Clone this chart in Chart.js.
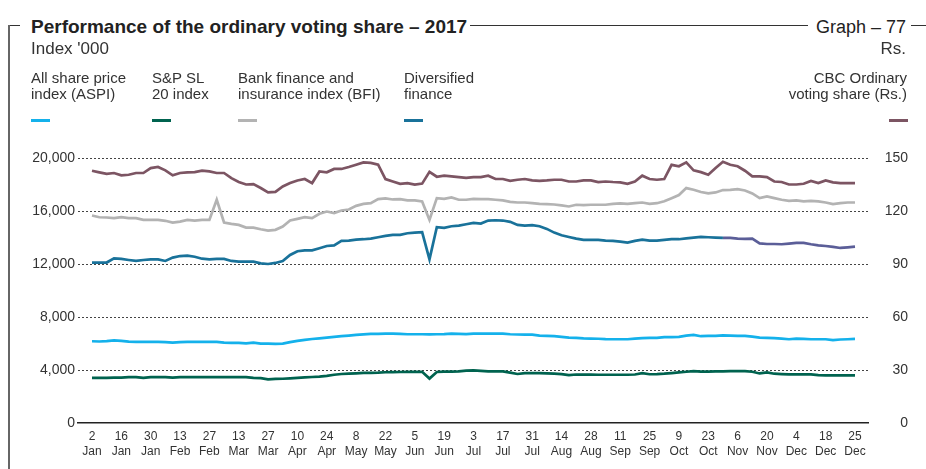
<!DOCTYPE html>
<html>
<head>
<meta charset="utf-8">
<script src="https://cdn.jsdelivr.net/npm/chart.js@4.4.1/dist/chart.umd.min.js"></script>
<style>
  html, body { margin: 0; padding: 0; background: #fff; }
  body { width: 926px; height: 469px; position: relative; overflow: hidden;
         font-family: "Liberation Sans", Arial, sans-serif; color: #333; }
  #chart { position: absolute; left: 0; top: 0; }
  .frame-v { position: absolute; left: 8px; top: 25px; width: 1.5px; height: 444px; background: #666; }
  .frame-h { position: absolute; left: 8px; right: 0; top: 25px; height: 1px; background: #333; }
  .title { position: absolute; left: 20px; top: 16px; padding: 0 3px 0 11px; background: #fff;
           font-weight: bold; font-size: 19px; line-height: 21px; color: #222; white-space: nowrap; }
  .graph { position: absolute; right: 15px; top: 17px; padding: 0 5px 0 8px; background: #fff;
           font-size: 18px; line-height: 20px; color: #222; white-space: nowrap; }
  .unit { position: absolute; top: 39px; font-size: 17px; line-height: 20px; white-space: nowrap; }
  .lg { position: absolute; top: 70px; font-size: 15px; line-height: 16px; white-space: nowrap; }
  .sw { position: absolute; top: 119px; width: 19px; height: 3px; }
</style>
</head>
<body>
<canvas id="chart" width="926" height="469"></canvas>
<div class="frame-h"></div>
<div class="frame-v"></div>
<div class="title">Performance of the ordinary voting share – 2017</div>
<div class="graph">Graph – 77</div>
<div class="unit" style="left:31px">Index '000</div>
<div class="unit" style="right:20px">Rs.</div>

<div class="lg" style="left:31px">All share price<br>index (ASPI)</div>
<div class="lg" style="left:152px">S&amp;P SL<br>20 index</div>
<div class="lg" style="left:238px">Bank finance and<br>insurance index (BFI)</div>
<div class="lg" style="left:404px">Diversified<br>finance</div>
<div class="lg" style="right:19px; text-align:right">CBC Ordinary<br>voting share (Rs.)</div>

<div class="sw" style="left:31px; background:#14b1eb"></div>
<div class="sw" style="left:152px; background:#00634f"></div>
<div class="sw" style="left:238px; background:#b3b3b3"></div>
<div class="sw" style="left:404px; background:#19729a"></div>
<div class="sw" style="left:889px; background:#7c5563"></div>

<script>
// tick labels (every two weeks)
const tickDays = ['2', '16', '30', '13', '27', '13', '27', '10', '24', '8', '22', '5', '19',
    '3', '17', '31', '14', '28', '11', '25', '9', '23', '6', '20', '4', '18', '25'];
const tickMonths = ['Jan', 'Jan', 'Jan', 'Feb', 'Feb', 'Mar', 'Mar', 'Apr', 'Apr', 'May', 'May', 'Jun', 'Jun',
    'Jul', 'Jul', 'Jul', 'Aug', 'Aug', 'Sep', 'Sep', 'Oct', 'Oct', 'Nov', 'Nov', 'Dec', 'Dec', 'Dec'];

// readings per tick interval
const STEP = 4;

// All share price index
const aspi = [
    6170, 6150, 6180, 6240, 6200, 6140, 6120, 6120, 6120, 6120, 6110, 6060, 6100,
    6120, 6120, 6120, 6120, 6120, 6060, 6050, 6040, 6010, 6060, 5990, 5990, 5970,
    5990, 6100, 6200, 6280, 6340, 6390, 6450, 6500, 6550, 6600, 6650, 6690, 6720,
    6720, 6740, 6740, 6720, 6700, 6700, 6700, 6690, 6700, 6710, 6740, 6730, 6710, 6740,
    6750, 6750, 6750, 6750, 6700, 6680, 6670, 6670, 6600, 6580, 6550, 6500, 6450,
    6420, 6380, 6370, 6360, 6330, 6320, 6320, 6320, 6370, 6400, 6420, 6420, 6480, 6480,
    6500, 6600, 6650, 6550, 6570, 6570, 6620, 6600, 6570, 6570, 6520, 6450, 6420,
    6400, 6370, 6320, 6370, 6350, 6320, 6320, 6320, 6250, 6300, 6320, 6350
];

// S&P SL 20 index
const spsl20 = [
    3400, 3400, 3410, 3420, 3430, 3460, 3460, 3400, 3460, 3460, 3460, 3420, 3460,
    3460, 3460, 3460, 3460, 3460, 3460, 3460, 3460, 3460, 3400, 3390, 3300, 3330,
    3340, 3370, 3400, 3440, 3470, 3500, 3560, 3640, 3700, 3720, 3750, 3780, 3790,
    3800, 3830, 3840, 3850, 3860, 3860, 3860, 3350, 3850, 3870, 3880, 3900, 3950, 3970,
    3930, 3900, 3900, 3900, 3800, 3700, 3770, 3770, 3770, 3750, 3720, 3690, 3620,
    3660, 3650, 3650, 3640, 3640, 3640, 3640, 3640, 3660, 3760, 3680, 3690, 3720, 3770,
    3820, 3870, 3920, 3880, 3880, 3900, 3900, 3920, 3920, 3920, 3870, 3740, 3820,
    3720, 3690, 3670, 3670, 3670, 3670, 3620, 3600, 3600, 3600, 3600, 3600
];

// Bank finance and insurance index
const bfi = [
    15660, 15530, 15510, 15460, 15530, 15460, 15460, 15330, 15330, 15330, 15260, 15130, 15200,
    15330, 15280, 15330, 15330, 16850, 15130, 15030, 14950, 14750, 14750, 14620, 14520, 14580,
    14830, 15280, 15410, 15530, 15460, 15790, 15960, 15840, 16040, 16110, 16390, 16540, 16590,
    16900, 16950, 16870, 16900, 16800, 16800, 16720, 15330, 16970, 16920, 17020, 16850, 16850, 16920,
    16900, 16900, 16850, 16800, 16690, 16640, 16640, 16590, 16540, 16520, 16490, 16420, 16340,
    16470, 16440, 16470, 16470, 16470, 16540, 16570, 16540, 16590, 16640, 16540, 16590, 16740, 16970,
    17200, 17730, 17600, 17430, 17330, 17400, 17580, 17600, 17650, 17550, 17330, 16970, 17100,
    16970, 16850, 16770, 16800, 16720, 16770, 16720, 16640, 16520, 16590, 16640, 16640
];

// Diversified finance
const divFin = [
    12100, 12100, 12110, 12430, 12380, 12300, 12230, 12300, 12350, 12350, 12230, 12480, 12600,
    12630, 12550, 12400, 12350, 12380, 12380, 12230, 12180, 12180, 12180, 12050, 12000, 12080,
    12230, 12680, 12960, 13030, 13030, 13190, 13360, 13410, 13740, 13770, 13840, 13870, 13920,
    14020, 14120, 14200, 14200, 14320, 14370, 14400, 12350, 14780, 14730, 14850, 14900, 15000, 15100,
    15050, 15280, 15300, 15280, 15180, 14950, 14900, 14930, 14850, 14650, 14370, 14170, 14040,
    13920, 13820, 13820, 13820, 13770, 13740, 13690, 13610, 13740, 13840, 13770, 13770, 13820, 13870,
    13870, 13940, 13990, 14040, 14020, 13990, 13970, 13970, 13920, 13890, 13920, 13560, 13510,
    13510, 13490, 13540, 13590, 13590, 13490, 13410, 13360, 13290, 13210, 13260, 13310
];

// CBC ordinary voting share (Rs.)
const cbc = [
    142.8, 141.9, 141.0, 141.5, 140.2, 140.5, 141.5, 141.5, 144.3, 144.9, 143.0, 140.2, 141.5,
    141.9, 142.0, 142.8, 142.4, 141.5, 141.5, 138.6, 136.4, 135.0, 135.2, 133.0, 130.5, 130.8,
    133.9, 135.8, 137.3, 138.1, 135.8, 142.4, 141.9, 143.8, 143.8, 144.9, 146.2, 147.5, 147.2,
    146.2, 138.1, 136.7, 135.4, 135.8, 134.9, 135.5, 142.2, 139.4, 140.0, 139.6, 139.2, 138.8, 139.2,
    139.2, 140.0, 138.1, 138.1, 137.1, 137.7, 138.1, 137.3, 137.1, 137.3, 137.7, 137.7, 136.7,
    136.7, 137.3, 137.3, 136.4, 136.7, 136.4, 136.2, 135.4, 136.7, 140.0, 138.1, 137.7, 138.1, 146.1,
    145.3, 147.5, 143.0, 142.0, 140.5, 144.3, 147.9, 146.2, 145.3, 142.8, 139.6, 139.6, 139.2,
    136.7, 136.4, 135.0, 135.0, 135.4, 137.0, 135.8, 137.3, 136.2, 135.8, 135.8, 135.8
];

const toPoints = arr => arr.map((v, i) => ({ x: i / STEP, y: v }));

const lineBase = { borderWidth: 2.7, pointRadius: 0, tension: 0, fill: false };

const ctx = document.getElementById('chart').getContext('2d');
const chart = new Chart(ctx, {
    type: 'line',
    data: {
        datasets: [
            Object.assign({ label: 'CBC Ordinary voting share (Rs.)', data: toPoints(cbc), borderColor: '#7c5563', yAxisID: 'y1' }, lineBase),
            Object.assign({ label: 'Bank finance and insurance index (BFI)', data: toPoints(bfi), borderColor: '#b3b3b3', yAxisID: 'y' }, lineBase),
            Object.assign({
                label: 'Diversified finance', data: toPoints(divFin), borderColor: '#19729a', yAxisID: 'y',
                segment: { borderColor: c => c.p0DataIndex >= 86 ? '#5b5e98' : '#19729a' }
            }, lineBase),
            Object.assign({ label: 'All share price index (ASPI)', data: toPoints(aspi), borderColor: '#14b1eb', yAxisID: 'y' }, lineBase),
            Object.assign({ label: 'S&P SL 20 index', data: toPoints(spsl20), borderColor: '#00634f', yAxisID: 'y' }, lineBase)
        ]
    },
    options: {
        responsive: false,
        animation: false,
        devicePixelRatio: 1,
        layout: { padding: { top: 158, right: 18, left: 0, bottom: 0 } },
        plugins: { legend: { display: false }, tooltip: { enabled: false } },
        scales: {
            x: {
                type: 'linear',
                min: -0.477,
                max: 26.443,
                afterBuildTicks: s => { s.ticks = tickDays.map((d, i) => ({ value: i })); },
                afterFit: s => { s.height = 46; },
                grid: { display: false, drawTicks: false },
                border: { display: true, color: '#222', width: 1.5 },
                ticks: {
                    autoSkip: false, maxRotation: 0, padding: 6, color: '#333',
                    font: { family: '"Liberation Sans", Arial, sans-serif', size: 12, lineHeight: 1.25 },
                    callback: v => [tickDays[v], tickMonths[v]]
                }
            },
            y: {
                position: 'left',
                min: 0, max: 20000,
                afterFit: s => { s.width = 78; },
                grid: {
                    drawTicks: false, lineWidth: 1,
                    color: c => c.tick.value === 0 ? 'rgba(0,0,0,0)' : '#444'
                },
                border: { display: false, dash: [2, 2] },
                ticks: {
                    stepSize: 4000, padding: 3, color: '#333',
                    font: { family: '"Liberation Sans", Arial, sans-serif', size: 14 },
                    callback: v => v.toLocaleString('en-US')
                }
            },
            y1: {
                position: 'right',
                min: 0, max: 150,
                afterFit: s => { s.width = 40; },
                grid: { display: false, drawTicks: false },
                border: { display: false },
                ticks: {
                    stepSize: 30, padding: 3, color: '#333', crossAlign: 'far',
                    font: { family: '"Liberation Sans", Arial, sans-serif', size: 14 }
                }
            }
        }
    }
});
</script>
</body>
</html>
